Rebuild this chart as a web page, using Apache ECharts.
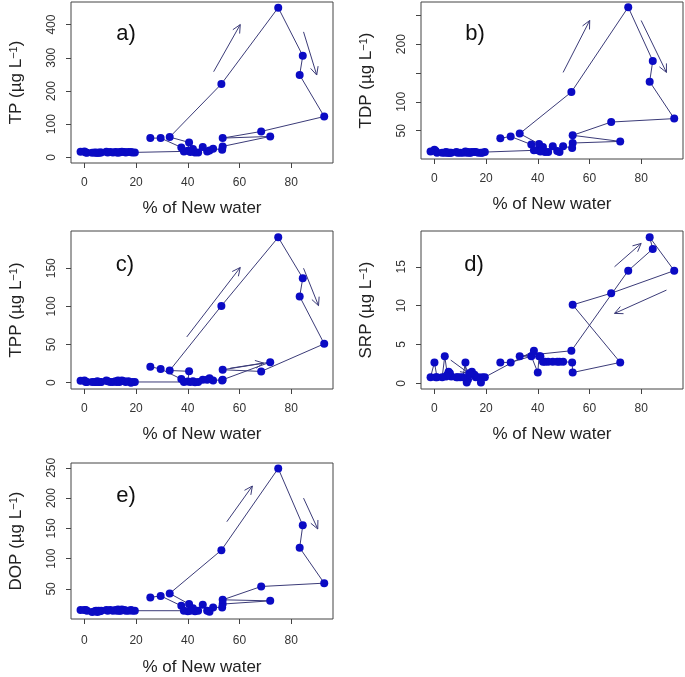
<!DOCTYPE html>
<html>
<head>
<meta charset="utf-8">
<script src="https://cdn.jsdelivr.net/npm/echarts@6/dist/echarts.min.js"></script>
<style>html,body{margin:0;padding:0;background:#fff;}#c{width:685px;height:677px;}</style>
</head>
<body>
<div id="c"></div>
<script>
// Shared x values (% of New water), in sampling order
const xNew = [25.5, 29.5, 37.5, 40, 40.5, 33, 53, 75, 84.5, 83.3, 92.8, 68.4, 53.5, 71.9, 53.5, 53.3, 49.8, 48.4, 47.5, 45.8, 44, 42.8, 42, 41, 38.5,
  19.5, 18.5, 18, 17, 16, 15.5, 14.5, 14, 13.5, 13, 12.5, 12, 11, 10, 9, 8.5, 6.5, 6, 5.5, 5, 4.5, 4, 3, 1, 0.5, 0, -1.5];
const tp  = [58, 58, 30, 20, 45, 61, 221, 451, 306, 248, 123, 78, 58, 63, 33, 23, 26, 21, 18, 31, 15, 15, 25, 16, 18,
  15, 15, 16, 16, 15, 16, 17, 16, 15, 15, 15, 16, 15, 16, 15, 17, 15, 15, 14, 14, 14, 15, 14, 14, 15, 18, 17];
const tdp = [37, 40, 26, 16, 27, 45, 117, 264, 171, 135, 71, 65, 42, 31.5, 28.7, 20, 23, 13, 15, 23, 13, 13, 22, 14, 16,
  13, 12, 12, 12, 13, 13, 13, 12, 12, 13, 12, 14, 12, 12, 12, 13, 12, 12, 12, 12, 13, 12, 12, 12, 15, 17, 14];
const tpp = [21, 18, 4.8, 1.5, 15, 16, 100.7, 190.5, 137, 113, 51, 14.8, 17, 27, 3.9, 3, 3, 6, 4, 4, 1, 0.5, 2, 1, 1,
  1, 1, 0, 2, 1, 2, 3, 2, 1, 3, 1, 2, 1, 1, 2, 3, 1, 1, 1, 2, 1, 1, 1, 1, 1, 3, 2.5];
const srp = [2.7, 2.7, 3.5, 1.4, 3.5, 3.5, 4.2, 14.5, 17.3, 18.8, 14.5, 11.6, 10.1, 2.7, 1.4, 2.7, 2.8, 2.8, 2.8, 2.8, 2.8, 2.8, 2.8, 3.5, 4.2,
  0.8, 0.8, 0.1, 0.8, 0.8, 1.1, 1.5, 1.2, 1.3, 0.5, 0.1, 2.7, 0.8, 0.8, 0.8, 0.8, 0.9, 1.3, 1.5, 1.1, 0.9, 3.5, 0.8, 0.8, 0.8, 2.7, 0.8];
const dop = [36, 38.5, 22, 13, 25, 42.5, 114, 249, 155, 118, 59.5, 54, 32, 30.3, 25, 19.5, 19.5, 12.3, 14, 23.8, 14, 13, 18, 14, 14,
  14, 14, 15, 14, 14, 15, 16, 14, 14, 16, 14, 15, 14, 15, 14, 15, 14, 13, 14, 12, 14, 13, 12, 14, 15, 15, 15];

// Direction arrows [x1, y1, x2, y2] in data units
const arrowsTP  = [[50, 258, 60.3, 400], [84.8, 378, 89.9, 248]];
const arrowsTDP = [[49.8, 151, 60.1, 241], [80, 241, 89.8, 151]];
const arrowsTPP = [[39.6, 60, 60.3, 151], [84.8, 150, 90.6, 101], [56.4, 19, 69.3, 25.8]];
const arrowsSRP = [[69.7, 15.0, 80, 18.0], [89.8, 12.0, 69.7, 9.0], [6.3, 3.0, 13.3, 1.3]];
const arrowsDOP = [[55.1, 161, 65, 220], [84.8, 200, 90.3, 149]];

// Tick values
const xTicks = [0, 20, 40, 60, 80];
const yTicksTP = [0, 100, 200, 300, 400];
const yTicksTDP = [50, 100, 150, 200, 250];
const yLabelsTDP = [50, 100, 200];
const yTicksTPP = [0, 50, 100, 150];
const yTicksSRP = [0, 5, 10, 15];
const yTicksDOP = [50, 100, 150, 200, 250];

const panelNames = ['TP', 'TDP', 'TPP', 'SRP', 'DOP'];
const panelTags = ['a)', 'b)', 'c)', 'd)', 'e)'];
const seriesY = [tp, tdp, tpp, srp, dop];
const arrows = [arrowsTP, arrowsTDP, arrowsTPP, arrowsSRP, arrowsDOP];
const yRanges = [[-17, 468], [1, 273], [-8.2, 198.8], [-0.72, 19.6], [0.3, 258]];
const yTicks = [yTicksTP, yTicksTDP, yTicksTPP, yTicksSRP, yTicksDOP];
const yLabels = [yTicksTP, yLabelsTDP, yTicksTPP, yTicksSRP, yTicksDOP];

const grids = [
  {left: 71, top: 2, width: 262, height: 161},
  {left: 421, top: 2, width: 262, height: 157},
  {left: 71, top: 231, width: 262, height: 158},
  {left: 421, top: 231, width: 262, height: 158},
  {left: 71, top: 463, width: 262, height: 157}
];
const xNameGap = [37, 37, 37, 37, 40];
const xLabelMargin = [14, 14, 14, 14, 16];
const tagPos = [[126, 34], [475, 34], [125, 265], [474, 265], [126, 496]];

const FONT = "'Liberation Sans', Arial, sans-serif";
const lineCol = '#3b3b78';
const ptCol = '#0b0bc4';

const chart = echarts.init(document.getElementById('c'), null, {renderer: 'canvas'});

const option = {
  backgroundColor: '#fff',
  animation: false,
  grid: grids.map(g => Object.assign({show: true, borderColor: '#444', borderWidth: 1, backgroundColor: 'transparent'}, g)),
  xAxis: grids.map((g, i) => ({
    type: 'value', gridIndex: i, min: -5.2, max: 96.2,
    name: '% of New water', nameLocation: 'middle', nameGap: xNameGap[i],
    nameTextStyle: {fontFamily: FONT, fontSize: 17, color: '#222'},
    axisLine: {show: false, onZero: false},
    axisTick: {show: true, inside: false, length: 5, lineStyle: {color: '#444'}, customValues: xTicks},
    axisLabel: {show: true, margin: xLabelMargin[i], fontFamily: FONT, fontSize: 12, color: '#333', customValues: xTicks},
    splitLine: {show: false}
  })),
  yAxis: grids.map((g, i) => ({
    type: 'value', gridIndex: i, min: yRanges[i][0], max: yRanges[i][1],
    name: panelNames[i] + ' (µg L{sup|−1})', nameLocation: 'middle', nameGap: 46, nameRotate: 90,
    nameTextStyle: {fontFamily: FONT, fontSize: 17, color: '#222',
      rich: {sup: {fontFamily: FONT, fontSize: 11, color: '#222', verticalAlign: 'top', lineHeight: 14}}},
    axisLine: {show: false, onZero: false},
    axisTick: {show: true, inside: false, length: 5, lineStyle: {color: '#444'}, customValues: yTicks[i]},
    axisLabel: {show: true, rotate: 90, margin: 13, fontFamily: FONT, fontSize: 12, color: '#333', customValues: yLabels[i]},
    splitLine: {show: false}
  })),
  graphic: panelTags.map((t, i) => ({
    type: 'text', x: tagPos[i][0], y: tagPos[i][1],
    style: {text: t, font: '22px ' + FONT, fill: '#111', textAlign: 'center', textVerticalAlign: 'middle'}
  })),
  series: []
};

seriesY.forEach((ys, i) => {
  option.series.push({
    type: 'line', xAxisIndex: i, yAxisIndex: i,
    data: xNew.map((x, k) => [x, ys[k]]),
    symbol: 'circle', symbolSize: 8, showSymbol: true,
    lineStyle: {color: lineCol, width: 1},
    itemStyle: {color: ptCol},
    z: 3, clip: false
  });
  option.series.push({
    type: 'custom', xAxisIndex: i, yAxisIndex: i,
    data: arrows[i],
    encode: {x: [0, 2], y: [1, 3]},
    clip: false, z: 2,
    renderItem: function (params, api) {
      const p1 = api.coord([api.value(0), api.value(1)]);
      const p2 = api.coord([api.value(2), api.value(3)]);
      const ang = Math.atan2(p2[1] - p1[1], p2[0] - p1[0]);
      const L = 9, a = Math.PI / 7;
      const h1 = [p2[0] - L * Math.cos(ang - a), p2[1] - L * Math.sin(ang - a)];
      const h2 = [p2[0] - L * Math.cos(ang + a), p2[1] - L * Math.sin(ang + a)];
      return {
        type: 'group',
        children: [
          {type: 'line', shape: {x1: p1[0], y1: p1[1], x2: p2[0], y2: p2[1]}, style: {stroke: lineCol, lineWidth: 1}},
          {type: 'polyline', shape: {points: [h1, p2, h2]}, style: {stroke: lineCol, lineWidth: 1, fill: null}}
        ]
      };
    }
  });
});

chart.setOption(option);
</script>
</body>
</html>
